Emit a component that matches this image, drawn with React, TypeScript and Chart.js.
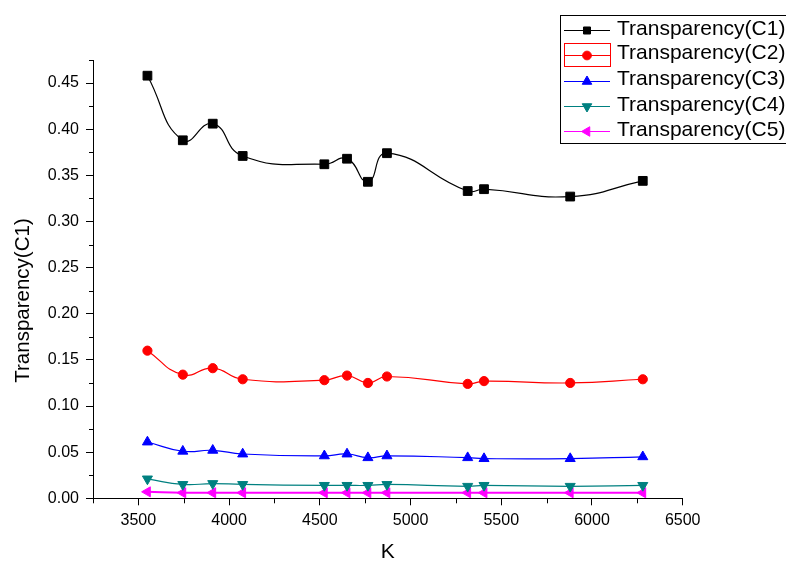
import React, { useEffect, useRef } from 'react';
import { Chart, registerables } from 'chart.js';

Chart.register(...registerables);

// ---- Data ----
const kValues = [3550, 3745, 3910, 4075, 4525, 4650, 4765, 4870, 5315, 5405, 5880, 6280];
const c1 = [0.458, 0.388, 0.406, 0.371, 0.362, 0.368, 0.343, 0.374, 0.333, 0.335, 0.327, 0.344];
const c2 = [0.160, 0.134, 0.141, 0.129, 0.128, 0.133, 0.125, 0.132, 0.124, 0.127, 0.125, 0.129];
const c3 = [0.061, 0.051, 0.052, 0.048, 0.046, 0.048, 0.044, 0.046, 0.044, 0.043, 0.043, 0.045];
const c4 = [0.021, 0.015, 0.016, 0.015, 0.014, 0.014, 0.014, 0.015, 0.013, 0.014, 0.013, 0.014];
const c5 = [0.007, 0.006, 0.006, 0.006, 0.006, 0.006, 0.006, 0.006, 0.006, 0.006, 0.006, 0.006];

const seriesNames = [
  'Transparency(C1)',
  'Transparency(C2)',
  'Transparency(C3)',
  'Transparency(C4)',
  'Transparency(C5)',
];
const seriesColors = ['#000000', '#ff0000', '#0000ff', '#008080', '#ff00ff'];
const xTitle = 'K';
const yTitle = 'Transparency(C1)';

const xTickValues = [3500, 4000, 4500, 5000, 5500, 6000, 6500];
const xMinorTickValues = [3250, 3750, 4250, 4750, 5250, 5750, 6250];
const yTickValues = [0, 0.05, 0.1, 0.15, 0.2, 0.25, 0.3, 0.35, 0.4, 0.45];
const yMinorTickValues = [0.025, 0.075, 0.125, 0.175, 0.225, 0.275, 0.325, 0.375, 0.425, 0.475];

const X_MIN = 3250;
const X_MAX = 6500;
const Y_MIN = 0;
const Y_MAX = 0.475;

const FONT = "'Liberation Sans', Arial, sans-serif";

type MarkerStyle = { shape: 'rect' | 'circle' | 'triangle'; radius: number; rotation: number };
const markerStyles: MarkerStyle[] = [
  { shape: 'rect', radius: 6.2, rotation: 0 },
  { shape: 'circle', radius: 4.6, rotation: 0 },
  { shape: 'triangle', radius: 5.8, rotation: 0 },
  { shape: 'triangle', radius: 5.8, rotation: 180 },
  { shape: 'triangle', radius: 5.8, rotation: 270 },
];

function drawMarker(ctx: CanvasRenderingContext2D, m: MarkerStyle, x: number, y: number, scale: number, color: string) {
  const r = m.radius * scale;
  ctx.save();
  ctx.fillStyle = color;
  ctx.strokeStyle = color;
  ctx.lineWidth = 1;
  ctx.beginPath();
  if (m.shape === 'rect') {
    const s = r * Math.SQRT1_2;
    ctx.rect(x - s, y - s, 2 * s, 2 * s);
  } else if (m.shape === 'circle') {
    ctx.arc(x, y, r, 0, Math.PI * 2);
  } else {
    let rad = (m.rotation * Math.PI) / 180;
    ctx.moveTo(x + Math.sin(rad) * r, y - Math.cos(rad) * r);
    rad += (2 * Math.PI) / 3;
    ctx.lineTo(x + Math.sin(rad) * r, y - Math.cos(rad) * r);
    rad += (2 * Math.PI) / 3;
    ctx.lineTo(x + Math.sin(rad) * r, y - Math.cos(rad) * r);
    ctx.closePath();
  }
  ctx.fill();
  ctx.stroke();
  ctx.restore();
}

const decorPlugin = {
  id: 'originDecor',
  afterDraw(chart: any) {
    const ctx: CanvasRenderingContext2D = chart.ctx;
    const xs = chart.scales.x;
    const ys = chart.scales.y;
    const area = chart.chartArea;

    // minor ticks
    ctx.save();
    ctx.strokeStyle = '#000';
    ctx.lineWidth = 1;
    ctx.beginPath();
    xMinorTickValues.forEach((v) => {
      const px = Math.round(xs.getPixelForValue(v)) + 0.5;
      ctx.moveTo(px, area.bottom);
      ctx.lineTo(px, area.bottom + 5);
    });
    ctx.stroke();
    ctx.beginPath();
    yMinorTickValues.forEach((v) => {
      const py = Math.round(ys.getPixelForValue(v)) + 0.5;
      ctx.moveTo(area.left, py);
      ctx.lineTo(area.left - 4, py);
    });
    ctx.stroke();
    ctx.restore();

    // y-axis title
    ctx.save();
    ctx.translate(23, 300.5);
    ctx.rotate(-Math.PI / 2);
    ctx.font = `20.5px ${FONT}`;
    ctx.fillStyle = '#000';
    ctx.textAlign = 'center';
    ctx.textBaseline = 'middle';
    ctx.fillText(yTitle, 0, 0);
    ctx.restore();

    // legend
    ctx.save();
    ctx.fillStyle = '#fff';
    ctx.fillRect(560.5, 15.5, 240, 128);
    ctx.strokeStyle = '#000';
    ctx.lineWidth = 1;
    ctx.strokeRect(560.5, 15.5, 240, 128);
    const rowY = [30, 54.5, 80.5, 106, 131];
    chart.data.datasets.forEach((ds: any, i: number) => {
      const y = rowY[i];
      ctx.strokeStyle = ds.borderColor;
      ctx.lineWidth = 1;
      ctx.beginPath();
      ctx.moveTo(564, Math.round(y) + 0.5);
      ctx.lineTo(610, Math.round(y) + 0.5);
      ctx.stroke();
      drawMarker(ctx, markerStyles[i], 587, Math.round(y) + 0.5, i === 0 ? 0.8 : 0.95, ds.borderColor);
      if (i === 1) {
        ctx.strokeStyle = '#ff0000';
        ctx.strokeRect(564.5, 43.5, 46, 23);
      }
      ctx.fillStyle = '#000';
      ctx.font = `21px ${FONT}`;
      ctx.textAlign = 'left';
      ctx.textBaseline = 'middle';
      ctx.fillText(ds.label, 617, y - 1);
    });
    ctx.restore();
  },
};

export default function App() {
  const ref = useRef<HTMLCanvasElement>(null);

  useEffect(() => {
    if (!ref.current) return;
    const allSeries = [c1, c2, c3, c4, c5];
    const datasets = allSeries.map((vals, i) => ({
      label: seriesNames[i],
      data: kValues.map((k, j) => ({ x: k, y: vals[j] })),
      borderColor: seriesColors[i],
      backgroundColor: seriesColors[i],
      borderWidth: i === 4 ? 2 : 1.2,
      pointStyle: markerStyles[i].shape,
      pointRadius: markerStyles[i].radius,
      pointRotation: markerStyles[i].rotation,
      pointBorderWidth: 1,
      pointBorderColor: seriesColors[i],
      pointBackgroundColor: seriesColors[i],
      tension: 0.5,
      fill: false,
    }));

    const chart = new Chart(ref.current, {
      type: 'line',
      data: { datasets },
      plugins: [decorPlugin],
      options: {
        animation: false,
        responsive: false,
        devicePixelRatio: 1,
        layout: { padding: { top: 60, right: 103.3, left: 0, bottom: 0 } },
        plugins: {
          legend: { display: false },
          tooltip: { enabled: false },
        },
        scales: {
          x: {
            type: 'linear',
            min: X_MIN,
            max: X_MAX,
            afterBuildTicks: (s: any) => {
              s.ticks = xTickValues.map((v) => ({ value: v }));
            },
            ticks: {
              autoSkip: false,
              color: '#000',
              font: { family: FONT, size: 16 },
              padding: 6,
              maxRotation: 0,
              callback: (v: any) => String(v),
            },
            grid: {
              display: true,
              drawOnChartArea: false,
              drawTicks: true,
              tickLength: 7,
              color: '#000',
              tickColor: '#000',
            },
            border: { display: true, color: '#000', width: 1 },
            title: {
              display: true,
              text: xTitle,
              color: '#000',
              font: { family: FONT, size: 21, lineHeight: 1 },
              padding: { top: 0, bottom: -2 },
            },
            afterFit: (s: any) => {
              s.height = 62.7;
            },
          },
          y: {
            type: 'linear',
            min: Y_MIN,
            max: Y_MAX,
            afterBuildTicks: (s: any) => {
              s.ticks = yTickValues.map((v) => ({ value: v }));
            },
            ticks: {
              autoSkip: false,
              color: '#000',
              font: { family: FONT, size: 16 },
              padding: 7,
              callback: (v: any) => Number(v).toFixed(2),
            },
            grid: {
              display: true,
              drawOnChartArea: false,
              drawTicks: true,
              tickLength: 7,
              color: '#000',
              tickColor: '#000',
            },
            border: { display: true, color: '#000', width: 1 },
            afterFit: (s: any) => {
              s.width = 93;
            },
          },
        },
      } as any,
    });
    return () => chart.destroy();
  }, []);

  return (
    <div style={{ position: 'fixed', left: 0, top: 0, width: 786, height: 561, background: '#fff' }}>
      <canvas ref={ref} width={786} height={561} style={{ display: 'block' }} />
    </div>
  );
}
